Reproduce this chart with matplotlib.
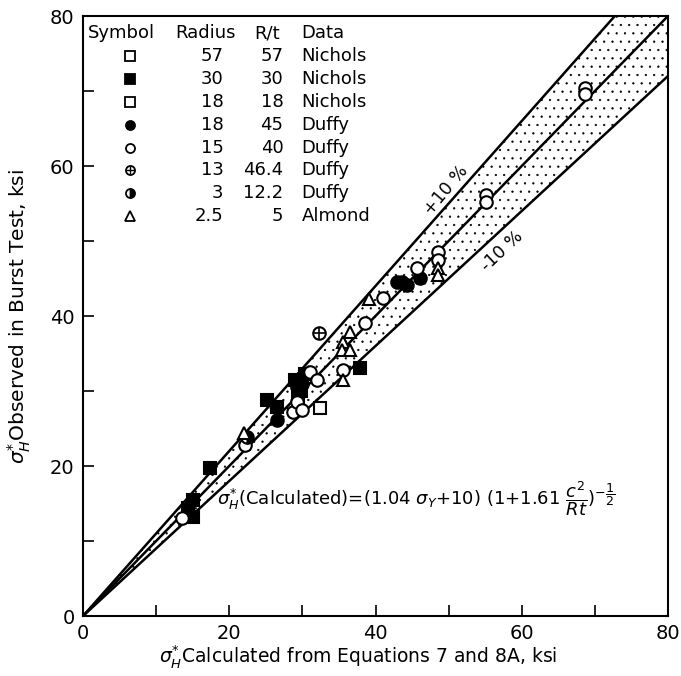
import numpy as np
import matplotlib
matplotlib.use("Agg")
import matplotlib.pyplot as plt

# ---------------- data ----------------
nichols57_x = [32.4]
nichols57_y = [27.7]

nichols30_x = [15.0, 15.0, 14.4, 17.4, 25.2, 26.5, 29.0, 29.8, 30.3, 29.4, 37.9]
nichols30_y = [13.2, 15.5, 14.4, 19.7, 28.8, 27.9, 31.5, 30.0, 32.3, 29.2, 33.1]

duffy18_x = [26.5, 29.2, 30.0, 43.0, 43.6, 44.3, 46.1]
duffy18_y = [26.1, 30.6, 31.0, 44.6, 44.5, 44.1, 45.1]

duffy15_x = [13.6, 22.2, 28.7, 29.3, 30.0, 31.1, 32.0, 35.6, 38.6, 41.0,
             45.7, 48.6, 48.6, 55.1, 55.1, 68.7, 68.7]
duffy15_y = [13.1, 22.8, 27.2, 28.5, 27.5, 32.5, 31.5, 32.8, 39.1, 42.4,
             46.4, 48.5, 47.5, 56.1, 55.2, 70.4, 69.6]

duffy13_x = [32.3]
duffy13_y = [37.7]

duffy3_x = [22.4]
duffy3_y = [23.9]

almond_x = [22.0, 35.6, 35.4, 36.5, 36.5, 35.6, 39.1, 48.6, 48.6]
almond_y = [24.4, 36.5, 35.5, 35.5, 37.9, 31.5, 42.3, 46.4, 45.5]

# legend table
tab_radius = ["57", "30", "18", "18", "15", "13", "3", "2.5"]
tab_rt = ["57", "30", "18", "45", "40", "46.4", "12.2", "5"]
tab_data = ["Nichols", "Nichols", "Nichols", "Duffy", "Duffy", "Duffy", "Duffy", "Almond"]

ticks_major = [0, 20, 40, 60, 80]
ticks_minor = [10, 30, 50, 70]
band = [0.9, 1.0, 1.1]

# ---------------- figure ----------------
plt.rcParams['font.family'] = ['DejaVu Sans']
plt.rcParams['mathtext.fontset'] = 'dejavusans'
plt.rcParams['hatch.color'] = '0.5'
plt.rcParams['hatch.linewidth'] = 0.4
fig = plt.figure(figsize=(6.81, 6.76), dpi=100)
ax = fig.add_axes([83/681, 60/676, 585/681, 600/676])
ax.set_xlim(0, 80)
ax.set_ylim(0, 80)

xx = np.linspace(0, 80, 200)
ax.fill_between(xx, band[0]*xx, band[2]*xx, facecolor='none', hatch='..',
                linewidth=0, zorder=1)
for f in band:
    ax.plot(xx, f*xx, color='black', lw=1.8, zorder=2)

ms = 9
mew = 1.5
kw = dict(linestyle='none', markersize=ms, markeredgewidth=mew,
          markeredgecolor='black', zorder=3)
ax.plot(nichols57_x, nichols57_y, marker='s', markerfacecolor='white', **kw)
ax.plot(nichols30_x, nichols30_y, marker='s', markerfacecolor='black', **kw)
ax.plot(duffy18_x, duffy18_y, marker='o', markerfacecolor='black', **kw)
ax.plot(duffy15_x, duffy15_y, marker='o', markerfacecolor='white', **kw)
ax.plot(duffy13_x, duffy13_y, marker='o', markerfacecolor='white', **kw)
ax.plot(duffy13_x, duffy13_y, marker='+', markersize=ms*0.95, markeredgewidth=1.2,
        color='black', linestyle='none', zorder=4)
ax.plot(duffy3_x, duffy3_y, marker='o', fillstyle='right', markerfacecolor='black',
        markerfacecoloralt='white', **kw)
ax.plot(almond_x, almond_y, marker='^', markerfacecolor='white', **kw)

# legend table
fs = 13
hy = 77.7
step = 3.05
ax.text(0.6, hy, "Symbol", fontsize=fs, va='center', ha='left')
ax.text(12.6, hy, "Radius", fontsize=fs, va='center', ha='left')
ax.text(23.4, hy, "R/t", fontsize=fs, va='center', ha='left')
ax.text(29.9, hy, "Data", fontsize=fs, va='center', ha='left')
sym = [('s', 'white', 'full'), ('s', 'black', 'full'), ('s', 'white', 'full'),
       ('o', 'black', 'full'), ('o', 'white', 'full'), ('o', 'white', 'full'),
       ('o', 'black', 'right'), ('^', 'white', 'full')]
for i in range(len(tab_radius)):
    y = hy - step*(i+1)
    m, fc, fsty = sym[i]
    ax.plot([6.4], [y], marker=m, markersize=6.5, markerfacecolor=fc,
            fillstyle=fsty, markerfacecoloralt='white',
            markeredgecolor='black', markeredgewidth=1.3, linestyle='none')
    if i == 5:
        ax.plot([6.4], [y], marker='+', markersize=6, markeredgewidth=1.0,
                color='black', linestyle='none')
    ax.text(19.2, y, tab_radius[i], fontsize=fs, va='center', ha='right')
    ax.text(27.4, y, tab_rt[i], fontsize=fs, va='center', ha='right')
    ax.text(29.9, y, tab_data[i], fontsize=fs, va='center', ha='left')

# band labels
ax.text(49.6, 56.8, "+10 %", fontsize=12.5, rotation=50, rotation_mode='anchor',
        ha='center', va='center')
ax.text(57.3, 48.6, "-10 %", fontsize=12.5, rotation=43, rotation_mode='anchor',
        ha='center', va='center')

# equation
ax.text(18.3, 15.7,
        r"$\sigma_H^{*}$(Calculated)=(1.04 $\sigma_Y$+10) (1+1.61 $\dfrac{c^2}{Rt}$)$^{-\dfrac{1}{2}}$",
        fontsize=13, ha='left', va='center')

# axes styling
ax.set_xticks(ticks_major)
ax.set_yticks(ticks_major)
ax.set_xticks(ticks_minor, minor=True)
ax.set_yticks(ticks_minor, minor=True)
ax.tick_params(which='both', direction='in', length=8, width=1.2, labelsize=14, pad=6)
for s in ax.spines.values():
    s.set_linewidth(1.5)

ax.set_xlabel(r"$\sigma_H^{*}$Calculated from Equations 7 and 8A, ksi", fontsize=13.5)
ax.set_ylabel(r"$\sigma_H^{*}$Observed in Burst Test, ksi", fontsize=14.5)
ax.xaxis.set_label_coords(0.47, -0.045)
ax.yaxis.set_label_coords(-0.085, 0.5)

fig.savefig("out.png", dpi=100)
